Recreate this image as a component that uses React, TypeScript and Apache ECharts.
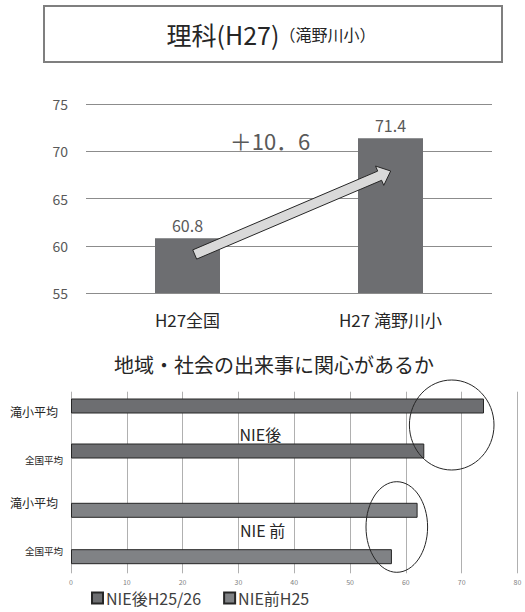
import React, { useEffect, useRef } from "react";
import * as echarts from "echarts";

const topCategories = ["H27全国", "H27 滝野川小"];
const topValues = [60.8, 71.4];
const topTicks = { min: 55, max: 75, interval: 5 };

const bottomCategories = ["滝小平均", "全国平均", "滝小平均", "全国平均"];
const afterCategories = ["滝小平均", "全国平均"];
const beforeCategories = ["滝小平均", "全国平均"];
const afterValues = [74.0, 63.3];
const beforeValues = [62.1, 57.5];
const seriesNames = ["NIE後H25/26", "NIE前H25"];

const FONT = "'Noto Sans CJK JP', 'Noto Sans', sans-serif";

function arrowPoints(T: number[], P: number[], shaftHalf: number, headHalf: number, headLen: number) {
  const dx = P[0] - T[0];
  const dy = P[1] - T[1];
  const len = Math.hypot(dx, dy);
  const u = [dx / len, dy / len];
  const n = [-u[1], u[0]];
  const H = [P[0] - headLen * u[0], P[1] - headLen * u[1]];
  const add = (a: number[], k: number) => [a[0] + k * n[0], a[1] + k * n[1]];
  return [add(T, -shaftHalf), add(H, -shaftHalf), add(H, -headHalf), P, add(H, headHalf), add(H, shaftHalf), add(T, shaftHalf)];
}

export default function App() {
  const ref = useRef<HTMLDivElement>(null);
  useEffect(() => {
    if (!ref.current) return;
    const chart = echarts.init(ref.current, null, { renderer: "svg" });
    const option: any = {
      animation: false,
      textStyle: { fontFamily: FONT },
      grid: [
        { left: 86, right: 33, top: 104.3, bottom: 319 },
        { left: 71, right: 7.5, top: 391.7, bottom: 38.7 },
        { left: 71, right: 7.5, top: 383.5, bottom: 138.5 },
        { left: 71, right: 7.5, top: 487.1, bottom: 32.1 },
      ],
      xAxis: [
        {
          gridIndex: 0,
          type: "category",
          data: topCategories,
          axisLine: { show: false },
          axisTick: { show: false },
          axisLabel: { fontSize: 17, color: "#262626", margin: 18, fontFamily: FONT },
        },
        {
          gridIndex: 1,
          type: "value",
          min: 0,
          max: 80,
          interval: 10,
          axisLine: { show: false },
          axisTick: { show: false },
          axisLabel: { fontSize: 7, color: "#7f7f7f", margin: 5, fontFamily: FONT },
          splitLine: { show: true, showMinLine: true, showMaxLine: true, lineStyle: { color: "#b0b0b0", width: 1 } },
        },
        { gridIndex: 2, type: "value", min: 0, max: 80, show: false },
        { gridIndex: 3, type: "value", min: 0, max: 80, show: false },
      ],
      yAxis: [
        {
          gridIndex: 0,
          type: "value",
          min: topTicks.min,
          max: topTicks.max,
          interval: topTicks.interval,
          axisLine: { show: false },
          axisTick: { show: false },
          axisLabel: { fontSize: 14, color: "#595959", margin: 18, fontFamily: FONT },
          splitLine: { show: true, showMinLine: true, showMaxLine: true, lineStyle: { color: "#8c8c8c", width: 1 } },
        },
        {
          gridIndex: 1,
          type: "category",
          data: bottomCategories,
          inverse: true,
          axisLine: { show: false },
          axisTick: { show: false },
          splitLine: { show: false },
          axisLabel: {
            margin: 8,
            formatter: (v: string, i: number) => (i % 2 === 0 ? `{big|${v}}` : `{small|${v}}`),
            rich: {
              big: { fontSize: 12, color: "#262626", padding: [-6, 5, 0, 0], fontFamily: FONT },
              small: { fontSize: 9.5, color: "#262626", fontFamily: FONT },
            },
          },
        },
        { gridIndex: 2, type: "category", data: afterCategories, inverse: true, show: false },
        { gridIndex: 3, type: "category", data: beforeCategories, inverse: true, show: false },
      ],
      legend: {
        data: seriesNames,
        left: 91,
        top: 590,
        padding: 0,
        icon: "rect",
        itemWidth: 11,
        itemHeight: 11,
        itemGap: 22,
        textStyle: { fontSize: 16, lineHeight: 16, color: "#404040", fontFamily: FONT, padding: [0, 0, 0, -2] },
      },
      series: [
        {
          type: "bar",
          xAxisIndex: 0,
          yAxisIndex: 0,
          data: topValues,
          barWidth: 65,
          itemStyle: { color: "#6d6e71" },
          label: { show: true, position: "top", distance: 5, fontSize: 16, color: "#595959", fontFamily: FONT },
        },
        {
          name: seriesNames[0],
          type: "bar",
          xAxisIndex: 2,
          yAxisIndex: 2,
          data: afterValues,
          barWidth: 15,
          itemStyle: { color: "#6d6e71", borderColor: "#262626", borderWidth: 1 },
        },
        {
          name: seriesNames[1],
          type: "bar",
          xAxisIndex: 3,
          yAxisIndex: 3,
          data: beforeValues,
          barWidth: 15,
          itemStyle: { color: "#808285", borderColor: "#262626", borderWidth: 1 },
        },
      ],
      graphic: [
        {
          type: "rect",
          z: 100,
          shape: { x: 44, y: 6, width: 458, height: 56 },
          style: { fill: "none", stroke: "#7f7f7f", lineWidth: 2 },
        },
        {
          type: "text",
          z: 100,
          x: 271,
          y: 34,
          style: {
            text: "{a|理科(H27)}{b|（滝野川小）}",
            align: "center",
            verticalAlign: "middle",
            rich: {
              a: { fontSize: 25, fill: "#262626", fontFamily: FONT },
              b: { fontSize: 16, fill: "#262626", fontFamily: FONT },
            },
          },
        },
        {
          type: "text",
          z: 100,
          x: 270,
          y: 140,
          style: { text: "＋10．6", fontSize: 22, fill: "#595959", fontFamily: FONT, align: "center", verticalAlign: "middle" },
        },
        {
          type: "polygon",
          z: 100,
          shape: { points: arrowPoints([194.7, 254.5], [390.7, 171], 5, 10.5, 12) },
          style: { fill: "#d9d9d9", stroke: "#262626", lineWidth: 1 },
        },
        {
          type: "text",
          z: 100,
          x: 274,
          y: 364,
          style: { text: "地域・社会の出来事に関心があるか", fontSize: 20, fill: "#262626", fontFamily: FONT, align: "center", verticalAlign: "middle" },
        },
        {
          type: "ellipse",
          z: 100,
          shape: { cx: 451.7, cy: 425, rx: 42.3, ry: 45 },
          style: { fill: "none", stroke: "#262626", lineWidth: 1 },
        },
        {
          type: "ellipse",
          z: 100,
          shape: { cx: 396.8, cy: 527, rx: 30.8, ry: 45.3 },
          style: { fill: "none", stroke: "#262626", lineWidth: 1 },
        },
        {
          type: "text",
          z: 100,
          x: 239.5,
          y: 434,
          style: { text: "NIE後", fontSize: 16, fill: "#262626", fontFamily: FONT, align: "left", verticalAlign: "middle" },
        },
        {
          type: "text",
          z: 100,
          x: 240,
          y: 530,
          style: { text: "NIE 前", fontSize: 16, fill: "#262626", fontFamily: FONT, align: "left", verticalAlign: "middle" },
        },
      ],
    };
    chart.setOption(option);
    return () => chart.dispose();
  }, []);
  return <div ref={ref} style={{ position: "fixed", left: 0, top: 0, width: 525, height: 612, background: "#fff" }} />;
}
